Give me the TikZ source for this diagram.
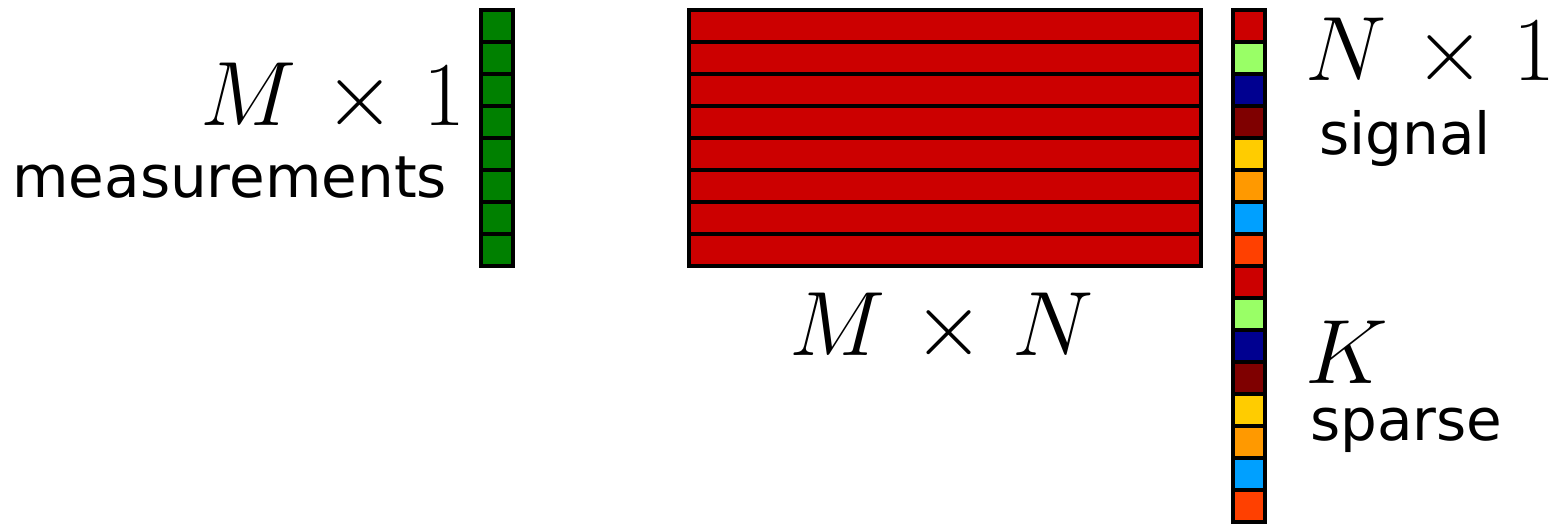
\RequirePackage{fix-cm}
\documentclass[tikz,border=0pt]{standalone}
\usepackage{fontspec}
\setsansfont{DejaVu Sans}
\usepackage{tikz}
\usetikzlibrary{positioning}
\definecolor{measGreen}{HTML}{008000}
\definecolor{matRed}{HTML}{CC0000}
\definecolor{sigRed}{HTML}{CC0000}
\definecolor{sigLime}{HTML}{99FF66}
\definecolor{sigNavy}{HTML}{000090}
\definecolor{sigMaroon}{HTML}{7F0000}
\definecolor{sigYellow}{HTML}{FFCC00}
\definecolor{sigOrange}{HTML}{FF9900}
\definecolor{sigSky}{HTML}{00A0FF}
\definecolor{sigVermilion}{HTML}{FF4000}

\begin{document}
\begin{tikzpicture}[
    x=0.02cm, y=-0.02cm,
    cell/.style={
        rectangle,
        draw=black,
        line width=0.07cm,
        minimum width=0.64cm,
        minimum height=0.64cm,
        inner sep=0pt
    },
    matrow/.style={
        cell,
        fill=matRed,
        minimum width=10.24cm
    },
    dimlabel/.style={
        inner sep=0pt,
        font=\fontsize{52}{62}\selectfont
    },
    wordlabel/.style={
        inner sep=0pt,
        font=\sffamily\fontsize{33}{40}\selectfont
    }
]
\useasboundingbox (0,0) rectangle (1559,525);

% Measurement vector
\foreach \i in {0,...,7}
    \node[cell, fill=measGreen] (y\i) at (497,{26+32*\i}) {};

% Sensing matrix rows
\foreach \i in {0,...,7}
    \node[matrow] (a\i) at (945,{26+32*\i}) {};

% Sparse signal
\foreach \c [count=\i from 0] in {sigRed,sigLime,sigNavy,sigMaroon,sigYellow,sigOrange,sigSky,sigVermilion,
                                  sigRed,sigLime,sigNavy,sigMaroon,sigYellow,sigOrange,sigSky,sigVermilion}
    \node[cell, fill=\c] (x\i) at (1249,{26+32*\i}) {};

% Labels
\node[dimlabel, anchor=base east] (ydim) at (466,125) {$M\mkern1.5mu\times\mkern1.5mu1$};
\node[wordlabel, anchor=base west] (yword) at (12,197) {measurements};
\node[dimlabel, anchor=base] (adim) at (942,355) {$M\mkern1.5mu\times\mkern1.5mu N$};
\node[dimlabel, anchor=base west] (xdim) at (1305,80) {$N\mkern1.5mu\times\mkern1.5mu1$};
\node[wordlabel, anchor=base west] (xword) at (1319,154) {signal};
\node[dimlabel, anchor=base west] (kdim) at (1305,383) {$K$};
\node[wordlabel, anchor=base west] (kword) at (1310,440) {sparse};

\end{tikzpicture}
\end{document}
